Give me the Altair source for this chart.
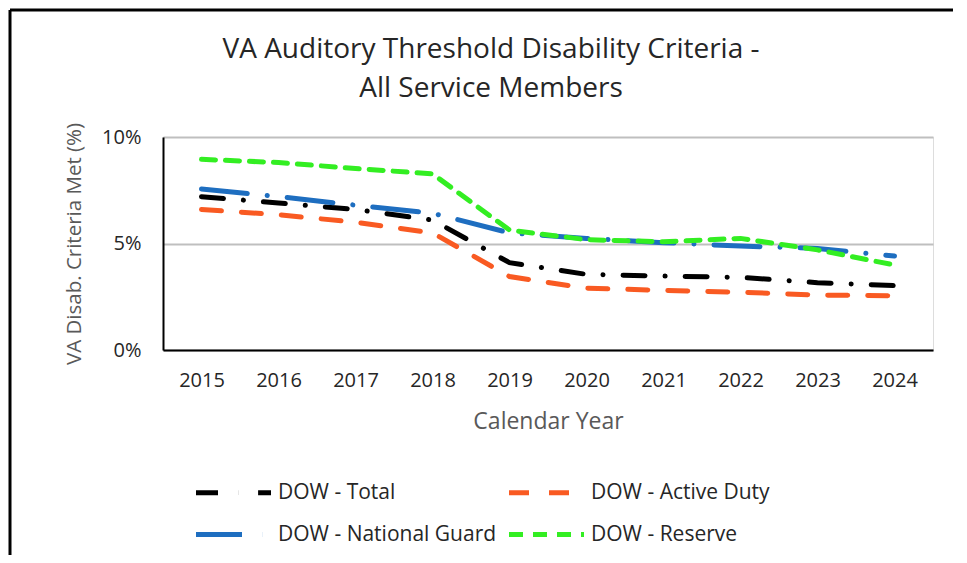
import altair as alt
import pandas as pd

years = ["2015", "2016", "2017", "2018", "2019", "2020", "2021", "2022", "2023", "2024"]
# order chosen so the 2-column legend reads row-wise: Total | Active Duty / National Guard | Reserve
series_names = ["DOW - Total", "DOW - National Guard", "DOW - Active Duty", "DOW - Reserve"]
total = [7.2, 6.9, 6.6, 6.1, 4.1, 3.55, 3.47, 3.41, 3.16, 3.02]
guard = [7.56, 7.2, 6.8, 6.42, 5.5, 5.24, 5.04, 4.88, 4.77, 4.41]
active = [6.6, 6.35, 6.0, 5.5, 3.45, 2.9, 2.8, 2.71, 2.58, 2.55]
reserve = [8.95, 8.8, 8.52, 8.27, 5.63, 5.18, 5.08, 5.24, 4.7, 3.99]

colors = ["#000000", "#1E6EC0", "#F95A22", "#33EE22"]
dashes = [[22, 20, 0.1, 20], [46, 20, 0.1, 20], [20, 20], [14, 10]]

rows = []
for name, vals in zip(series_names, [total, guard, active, reserve]):
    for y, v in zip(years, vals):
        rows.append({"Year": y, "Value": v, "Series": name})
df = pd.DataFrame(rows)

W, H = 770, 213
FONT = "Open Sans"

legend_cfg = dict(title=None, orient="none", legendX=53, legendY=338,
                  columns=2, columnPadding=2, rowPadding=14,
                  symbolType="M-2.5,0H2.5", symbolSize=900,
                  symbolStrokeWidth=5, labelFontSize=21,
                  labelColor="#262626", labelFont=FONT,
                  labelOffset=27, labelLimit=400)

lines = alt.Chart(df).mark_line(strokeWidth=5, strokeCap="round", clip=False).encode(
    x=alt.X("Year:N", sort=years,
            scale=alt.Scale(type="point", padding=0.5),
            axis=alt.Axis(title="Calendar Year", labelAngle=0, ticks=False,
                          domainColor="#000000", domainWidth=2,
                          labelFontSize=20, labelColor="#262626", labelPadding=20,
                          titleFontSize=23, titleColor="#595959", titleFontWeight="normal",
                          titlePadding=20, labelFont=FONT, titleFont=FONT, grid=False)),
    y=alt.Y("Value:Q", scale=alt.Scale(domain=[0, 10]),
            axis=alt.Axis(title="VA Disab. Criteria Met (%)", values=[0, 5, 10],
                          labelExpr="datum.value + '%'", ticks=False,
                          domainColor="#000000", domainWidth=2,
                          gridColor="#BFBFBF", gridWidth=2,
                          labelFontSize=20, labelColor="#262626", labelPadding=22,
                          titleFontSize=20.5, titleColor="#595959", titleFontWeight="normal",
                          titlePadding=17, labelFont=FONT, titleFont=FONT)),
    color=alt.Color("Series:N", sort=series_names,
                    scale=alt.Scale(domain=series_names, range=colors),
                    legend=alt.Legend(**legend_cfg)),
    strokeDash=alt.StrokeDash("Series:N", sort=series_names,
                              scale=alt.Scale(domain=series_names, range=dashes),
                              legend=alt.Legend(**legend_cfg)),
)

frame_df = pd.DataFrame({"k": [0]})
left_rule = alt.Chart(frame_df).mark_rule(color="#000000", strokeWidth=3, clip=False).encode(
    x=alt.value(-153), y=alt.value(-127), y2=alt.value(430))
top_rule = alt.Chart(frame_df).mark_rule(color="#000000", strokeWidth=3, clip=False).encode(
    x=alt.value(-153), x2=alt.value(810), y=alt.value(-127))

chart = alt.layer(left_rule, top_rule, lines).properties(
    width=W, height=H,
    title=alt.TitleParams(
        text=["VA Auditory Threshold Disability Criteria -", "All Service Members"],
        fontSize=28, font=FONT, fontWeight="normal", color="#262626",
        lineHeight=39, offset=-94, dx=-57, anchor="middle"),
    autosize=alt.AutoSizeParams(type="none"),
    padding={"left": 155, "top": 129, "right": 20, "bottom": 205},
).configure_view(stroke=None).configure(background="#FFFFFF")

chart.save("out.html", embed_options={"renderer": "svg", "actions": False})
